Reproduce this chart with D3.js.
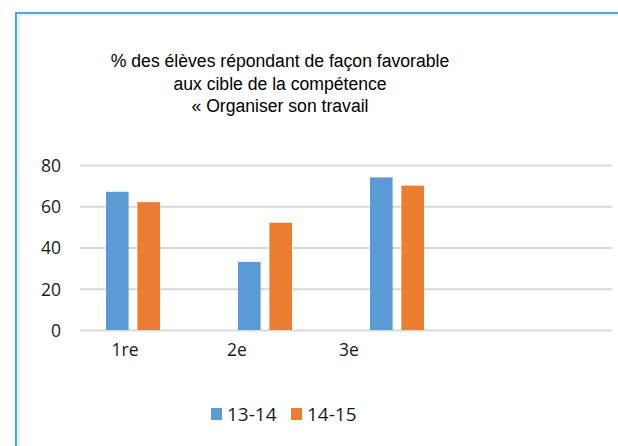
<!DOCTYPE html>
<html>
<head>
<meta charset="utf-8">
<style>
  body { margin: 0; background: #fff; }
  .title { font-family: "Liberation Sans", Arial, sans-serif; font-size: 17.6px; fill: #000; }
  .tick text { font-family: "Open Sans", sans-serif; fill: #1a1a1a; }
</style>
</head>
<body>
<div class="chart"></div>

<script src="https://cdn.jsdelivr.net/npm/d3@7"></script>
<script type="text/javascript">

// data
var categories = ["1re", "2e", "3e", ""];
var seriesNames = ["13-14", "14-15"];
var values1314 = [67, 33, 74];
var values1415 = [62, 52, 70];
var yTicks = [0, 20, 40, 60, 80];
var titleLines = [
    "% des élèves répondant de façon favorable",
    "aux cible de la compétence",
    "« Organiser son travail"
];
var colors = ["#5B9BD5", "#ED7D31"];

var width = 618, height = 446;

var svg = d3.select(".chart").append("svg")
    .attr("width", width)
    .attr("height", height);

// frame (blue border with a faint shadow inside)
svg.append("path")
    .attr("d", "M16,446 V13 H618")
    .attr("fill", "none")
    .attr("stroke", "#3DB0E2")
    .attr("stroke-width", 2);
svg.append("path")
    .attr("d", "M18,446 V15 H618")
    .attr("fill", "none")
    .attr("stroke", "#e2e2e2")
    .attr("stroke-width", 1);

// title
svg.append("text")
    .attr("class", "title")
    .attr("text-anchor", "middle")
    .selectAll("tspan")
    .data(titleLines)
    .enter().append("tspan")
    .attr("x", 280)
    .attr("y", function(d, i) { return 67 + i * 22.5; })
    .text(function(d) { return d; });

// scales
var y = d3.scaleLinear()
    .domain([0, 80])
    .range([330, 165]);

var x = d3.scaleBand()
    .domain(categories)
    .range([67, 595]);

var xSeries = d3.scaleBand()
    .domain(seriesNames)
    .range([0, 54])
    .paddingInner(0.28);

// label positions in the picture sit a bit left of the bars
var xLabel = d3.scaleBand()
    .domain(categories)
    .range([69, 517]);

// gridlines + y labels
var yAxis = svg.append("g")
    .attr("transform", "translate(80,0)")
    .call(d3.axisLeft(y).tickValues(yTicks).tickSize(-532).tickPadding(19));
yAxis.select(".domain").remove();
yAxis.selectAll(".tick line")
    .attr("stroke", "#d9d9d9")
    .attr("stroke-width", 2);
yAxis.selectAll(".tick text")
    .attr("font-size", "17.5px")
    .attr("dy", "0.36em");

// bars
var rows = categories.slice(0, 3).map(function(c, i) {
    return { cat: c, vals: [values1314[i], values1415[i]] };
});

var groups = svg.selectAll(".grp")
    .data(rows)
    .enter().append("g")
    .attr("class", "grp")
    .attr("transform", function(d) {
        return "translate(" + (x(d.cat) + x.bandwidth() / 2 - 27) + ",0)";
    });

groups.selectAll("rect")
    .data(function(d) {
        return d.vals.map(function(v, j) { return { s: seriesNames[j], v: v, j: j }; });
    })
    .enter().append("rect")
    .attr("x", function(d) { return xSeries(d.s); })
    .attr("width", xSeries.bandwidth())
    .attr("y", function(d) { return y(d.v); })
    .attr("height", function(d) { return y(0) - y(d.v); })
    .attr("fill", function(d) { return colors[d.j]; });

// category labels
var xAxis = svg.append("g")
    .attr("transform", "translate(0,344)")
    .call(d3.axisBottom(xLabel).tickSize(0).tickPadding(0));
xAxis.select(".domain").remove();
xAxis.selectAll(".tick text")
    .attr("font-size", "17.5px")
    .attr("dy", "0.71em");

// legend
var legend = svg.append("g")
    .attr("transform", "translate(211,408)");
var legX = [0, 80];
var li = legend.selectAll("g")
    .data(seriesNames)
    .enter().append("g")
    .attr("transform", function(d, i) { return "translate(" + legX[i] + ",0)"; });
li.append("rect")
    .attr("width", 11)
    .attr("height", 12)
    .attr("fill", function(d, i) { return colors[i]; });
li.append("text")
    .attr("x", 16)
    .attr("y", 13)
    .attr("font-family", "Open Sans, sans-serif")
    .attr("font-size", "19px")
    .attr("fill", "#1a1a1a")
    .text(function(d) { return d; });

</script>
</body>
</html>
